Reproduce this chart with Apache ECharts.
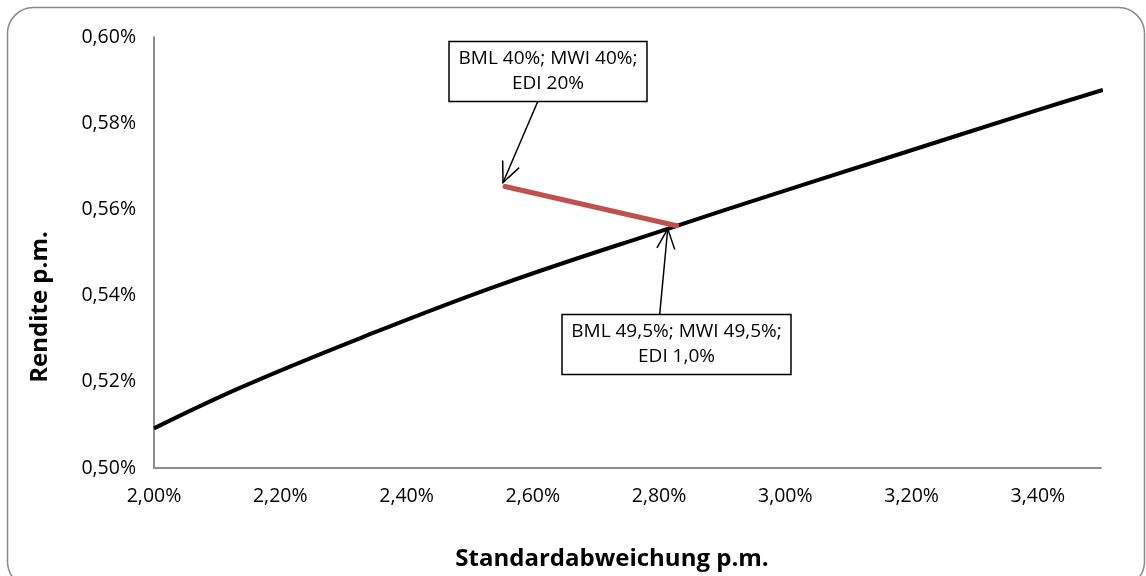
<!DOCTYPE html>
<html>
<head>
<meta charset="utf-8">
<script src="https://cdn.jsdelivr.net/npm/echarts@6/dist/echarts.min.js"></script>
<style>
  html, body { margin: 0; padding: 0; background: #fff; }
  #chart { width: 1146px; height: 576px; }
</style>
</head>
<body>
<div id="chart"></div>
<script>
// Efficient frontier (monthly std. deviation vs. monthly return, in %)
const frontierSigma  = [2.000, 2.136, 2.326, 2.548, 2.828, 2.960, 3.150, 3.403, 3.503];
const frontierReturn = [0.5092, 0.5186, 0.5301, 0.5425, 0.5562, 0.5625, 0.5714, 0.5832, 0.5877];

// Shift from the 40/40/20 mix to the 49,5/49,5/1 mix
const mixSigma  = [2.556, 2.828];
const mixReturn = [0.5653, 0.5562];

const mixLabels = [
  ['BML 40%; MWI 40%;', 'EDI 20%'],
  ['BML 49,5%; MWI 49,5%;', 'EDI 1,0%']
];

const xTitle = 'Standardabweichung p.m.';
const yTitle = 'Rendite p.m.';

const FONT = '"Open Sans", sans-serif';
const fmt = v => v.toFixed(2).replace('.', ',') + '%';

const chart = echarts.init(document.getElementById('chart'), null, { renderer: 'canvas' });

const option = {
  animation: false,
  backgroundColor: '#fff',
  grid: { left: 154, right: 45, top: 37, bottom: 108, containLabel: false },
  xAxis: {
    type: 'value', min: 2.0, max: 3.5, interval: 0.2,
    axisLine: { show: true, lineStyle: { color: '#8c8c8c', width: 2 } },
    axisTick: { show: false },
    splitLine: { show: false },
    axisLabel: { formatter: fmt, showMaxLabel: false, color: '#000', fontFamily: FONT, fontSize: 19.5, margin: 18 }
  },
  yAxis: {
    type: 'value', min: 0.5, max: 0.6, interval: 0.02,
    axisLine: { show: true, lineStyle: { color: '#8c8c8c', width: 2 } },
    axisTick: { show: false },
    splitLine: { show: false },
    axisLabel: { formatter: fmt, color: '#000', fontFamily: FONT, fontSize: 19.5, margin: 18 }
  },
  series: [
    {
      type: 'line', name: 'Effizienzlinie',
      data: frontierSigma.map((s, i) => [s, frontierReturn[i]]),
      smooth: 0.4, showSymbol: false, clip: false,
      lineStyle: { color: '#000', width: 4 }
    },
    {
      type: 'line', name: 'Mischung',
      data: mixSigma.map((s, i) => [s, mixReturn[i]]),
      showSymbol: false, z: 3,
      lineStyle: { color: '#c0504d', width: 5, cap: 'round' }
    }
  ]
};
chart.setOption(option);

// Callout arrows with open heads
function arrow(from, to) {
  const dx = to[0] - from[0], dy = to[1] - from[1];
  const ang = Math.atan2(dy, dx);
  const len = 22, spread = 0.42;
  const h1 = [to[0] - len * Math.cos(ang - spread), to[1] - len * Math.sin(ang - spread)];
  const h2 = [to[0] - len * Math.cos(ang + spread), to[1] - len * Math.sin(ang + spread)];
  const st = { stroke: '#000', lineWidth: 1.5, fill: null };
  return [
    { type: 'polyline', shape: { points: [from, to] }, style: st, z: 20 },
    { type: 'polyline', shape: { points: [h1, to, h2] }, style: st, z: 20 }
  ];
}

function box(x, y, w, h, lines) {
  return [
    { type: 'rect', shape: { x: x, y: y, width: w, height: h }, style: { fill: '#fff', stroke: '#000', lineWidth: 1.5 }, z: 21 },
    { type: 'text', x: x + w / 2, y: y + h / 2, z: 22,
      style: { text: lines.join('\n'), fill: '#000', font: '19px ' + FONT, align: 'center', verticalAlign: 'middle', lineHeight: 25 } }
  ];
}

const pStart = chart.convertToPixel({ gridIndex: 0 }, [mixSigma[0], mixReturn[0]]);
const pEnd = chart.convertToPixel({ gridIndex: 0 }, [mixSigma[1], mixReturn[1]]);

const graphics = [
  { type: 'rect', shape: { x: 7.5, y: 7.5, width: 1137, height: 580, r: 26 },
    style: { fill: null, stroke: '#8a8a8a', lineWidth: 1.5 }, z: 0, silent: true },
  { type: 'text', x: 612, y: 559, z: 10,
    style: { text: xTitle, fill: '#000', font: 'bold 24px ' + FONT, align: 'center', verticalAlign: 'middle' } },
  { type: 'text', x: 40, y: 307, rotation: Math.PI / 2, z: 10,
    style: { text: yTitle, fill: '#000', font: 'bold 24px ' + FONT, align: 'center', verticalAlign: 'middle' } }
];
graphics.push(...arrow([538, 101], [pStart[0] - 2, pStart[1] - 4]));
graphics.push(...arrow([659, 322], [pEnd[0] - 9, pEnd[1] + 3]));
graphics.push(...box(449, 41.5, 198, 60, mixLabels[0]));
graphics.push(...box(562, 314.5, 229, 60, mixLabels[1]));

chart.setOption({ graphic: { elements: graphics } });
</script>
</body>
</html>
